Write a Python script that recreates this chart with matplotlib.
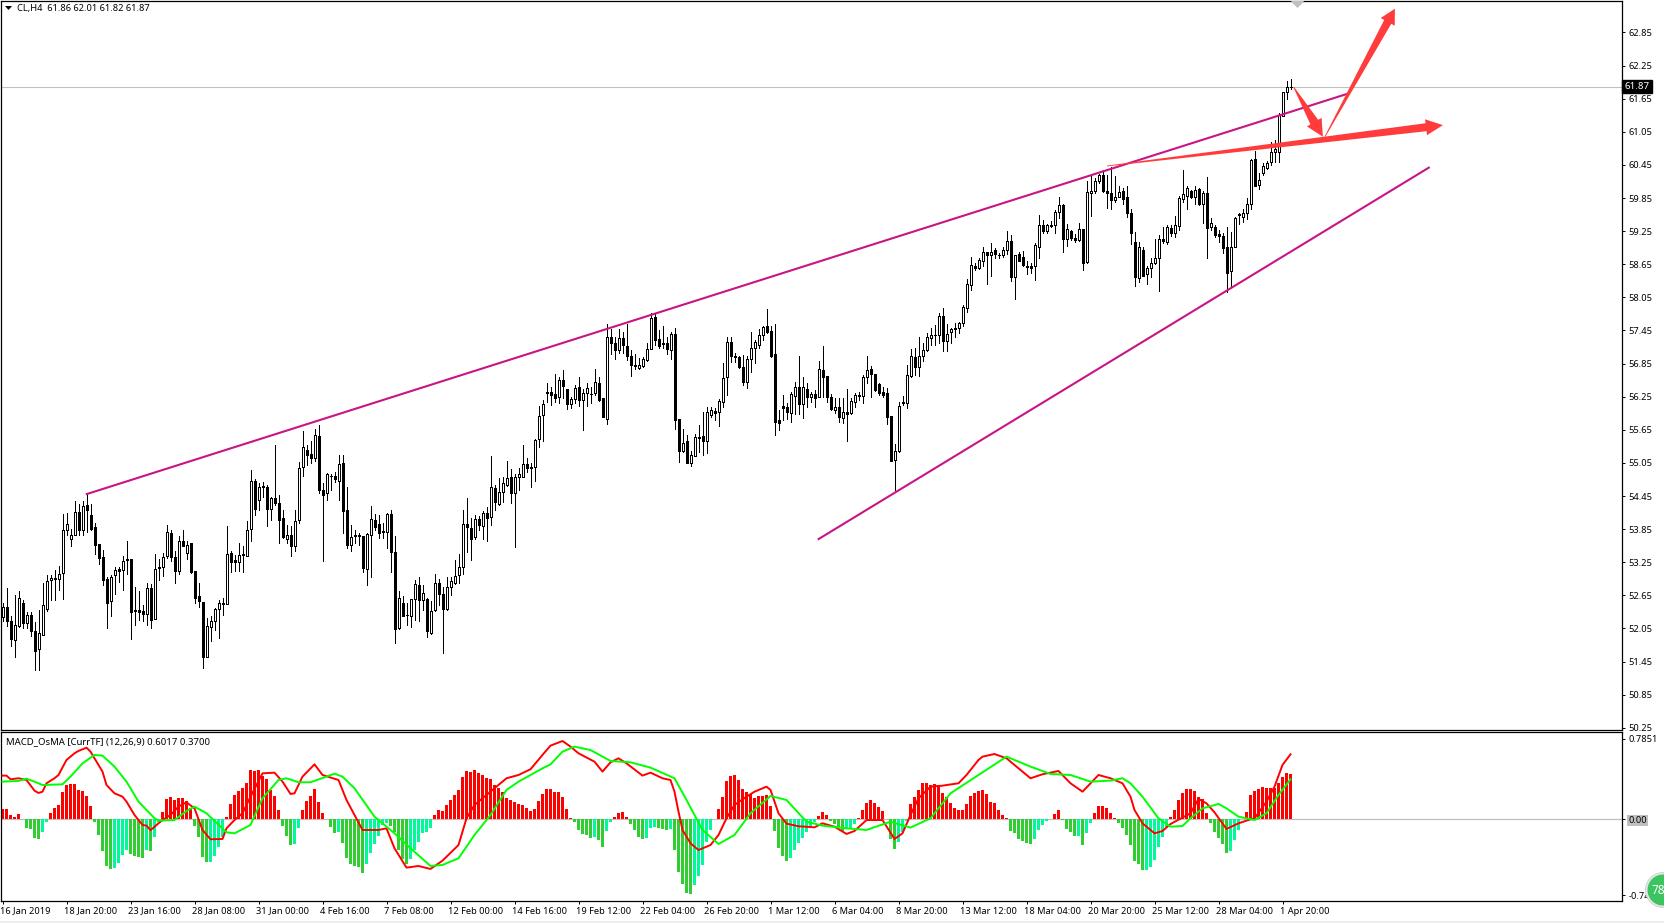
import matplotlib
matplotlib.use("Agg")
import matplotlib.pyplot as plt
from matplotlib.patches import Polygon, Rectangle, Circle
from matplotlib.transforms import IdentityTransform, ScaledTranslation
import numpy as np

plt.rcParams['font.family'] = ['Noto Sans', 'DejaVu Sans']

opens = [
52.26,52.44,52.18,51.84,52.09,52.51,52.14,52.29,52.00,51.68,
51.94,52.41,52.92,52.96,52.95,53.05,53.83,53.68,53.75,54.16,
53.83,54.29,54.10,53.89,53.58,53.34,52.95,52.54,53.01,53.13,
53.11,53.30,53.31,52.38,52.38,52.37,52.32,52.78,52.23,53.17,
53.17,53.36,53.78,53.35,53.10,53.63,53.41,53.59,53.10,52.63,
52.53,51.54,52.07,52.18,52.41,52.52,52.49,53.42,53.29,53.26,
53.39,53.37,53.85,54.72,54.38,54.64,54.61,54.21,54.41,54.32,
54.05,53.68,53.74,53.54,54.01,54.97,55.28,55.21,55.14,55.54,
54.56,54.50,54.81,54.81,54.73,55.05,54.20,53.57,53.72,53.74,
53.72,53.13,53.74,54.02,53.95,53.81,53.79,54.12,53.43,52.05,
52.52,52.30,52.27,52.59,52.84,52.56,52.58,51.97,52.38,52.87,
52.67,52.41,52.80,52.88,53.01,53.16,53.94,53.87,53.70,54.03,
53.90,54.14,54.07,54.59,54.31,54.53,54.65,54.79,54.51,54.79,
54.80,55.03,54.98,54.97,55.48,55.91,56.33,56.33,56.30,56.24,
56.55,56.39,56.11,56.20,56.42,56.19,56.31,56.29,56.31,56.49,
56.22,55.85,57.33,57.22,57.10,57.31,57.16,56.98,56.83,56.77,
56.80,56.92,57.12,57.69,57.29,57.21,57.23,57.10,57.39,55.84,
55.27,55.45,55.04,55.18,55.51,55.54,55.44,55.91,55.99,55.97,
56.15,56.60,57.24,56.99,56.96,56.78,56.52,56.94,57.14,57.19,
57.36,57.53,57.44,57.02,55.82,56.08,56.06,55.96,56.27,56.42,
56.11,56.39,56.25,56.29,56.25,56.73,56.62,56.24,56.01,56.06,
55.87,55.97,55.96,56.15,56.28,56.27,56.61,56.75,56.66,56.48,
56.34,56.31,55.90,55.10,55.27,56.16,56.14,56.63,56.96,56.78,
56.98,57.09,57.32,57.36,57.37,57.71,57.25,57.42,57.48,57.50,
57.59,57.85,58.27,58.61,58.58,58.71,58.87,58.81,58.91,58.81,
58.82,58.90,59.07,58.41,58.84,58.79,58.60,58.61,58.61,58.97,
59.37,59.25,59.36,59.36,59.60,59.72,59.10,59.25,59.12,59.09,
59.29,58.69,59.94,59.97,60.15,60.26,59.97,59.94,59.82,59.86,
59.97,59.86,59.57,59.05,58.40,58.91,58.47,58.58,58.67,58.77,
59.10,59.06,59.30,59.22,59.35,59.84,59.89,59.97,59.86,60.01,
59.74,59.94,59.32,59.32,59.19,59.16,58.96,58.52,58.96,59.55,
59.51,59.57,59.75,60.55,60.09,60.31,60.40,60.50,60.69,60.69,
61.34,61.77,61.86]

closes = [
52.43,52.18,51.85,52.11,52.60,52.14,52.29,52.00,51.65,51.97,
52.47,52.91,52.96,52.94,53.04,53.83,53.94,53.75,54.16,53.83,
54.27,54.19,53.86,53.56,53.32,52.92,52.52,52.98,53.11,53.10,
53.27,53.29,52.34,52.36,52.35,52.32,52.78,52.21,53.13,53.14,
53.35,53.80,53.34,53.10,53.63,53.55,53.56,53.08,52.61,52.54,
51.54,52.10,52.18,52.40,52.51,52.49,53.40,53.25,53.25,53.38,
53.40,53.83,54.72,54.21,54.61,54.61,54.21,54.41,54.33,54.01,
53.70,53.74,53.54,53.99,54.96,55.34,55.19,55.13,55.55,54.56,
54.47,54.84,54.82,54.75,55.03,54.17,53.57,53.71,53.74,53.72,
53.14,53.76,54.03,53.88,53.78,53.79,54.12,53.43,52.04,52.60,
52.28,52.29,52.58,52.85,52.56,52.69,52.00,52.37,52.87,52.67,
52.40,52.80,52.91,53.00,53.16,53.94,53.88,53.68,54.03,53.92,
54.14,54.06,54.61,54.35,54.52,54.68,54.77,54.51,54.79,54.84,
55.03,54.95,54.95,55.47,55.90,56.11,56.31,56.28,56.23,56.55,
56.45,56.11,56.20,56.41,56.19,56.31,56.40,56.30,56.51,56.19,
55.89,57.33,57.23,57.09,57.31,57.18,56.99,56.83,56.81,56.82,
56.93,57.11,57.67,57.27,57.16,57.22,57.12,57.38,55.82,55.27,
55.41,55.05,55.19,55.52,55.52,55.45,55.97,56.00,55.95,56.17,
56.58,57.24,56.98,56.96,56.78,56.52,56.94,57.13,57.24,57.36,
57.52,57.43,56.99,55.80,55.78,56.05,55.98,56.29,56.43,56.11,
56.43,56.25,56.29,56.23,56.75,56.60,56.25,56.03,56.06,55.89,
55.97,55.94,56.17,56.28,56.26,56.60,56.73,56.67,56.37,56.32,
56.28,55.89,55.09,55.27,56.09,56.13,56.64,56.98,56.78,56.98,
57.09,57.33,57.36,57.36,57.71,57.25,57.38,57.47,57.49,57.58,
57.88,58.29,58.63,58.59,58.72,58.88,58.81,58.88,58.83,58.82,
58.90,59.07,58.41,58.81,58.71,58.63,58.61,58.59,58.99,59.36,
59.26,59.36,59.34,59.60,59.73,59.10,59.28,59.12,59.09,59.28,
58.68,59.95,59.97,60.15,60.26,59.97,59.94,59.81,59.86,59.95,
59.84,59.57,59.21,58.41,58.96,58.44,58.58,58.68,58.76,59.10,
59.07,59.33,59.21,59.36,59.85,59.92,60.03,59.87,59.99,59.74,
59.94,59.31,59.39,59.18,59.17,58.95,58.50,58.97,59.49,59.55,
59.57,59.75,60.53,60.07,60.18,60.43,60.48,60.68,60.74,61.36,
61.77,61.87,61.87]

highs = [
52.51,52.78,52.27,52.66,52.73,52.56,52.35,52.35,52.16,52.39,
52.87,53.01,53.02,53.11,53.19,54.13,54.14,53.85,54.36,54.30,
54.36,54.50,54.31,53.96,53.58,53.48,52.99,53.02,53.17,53.17,
53.37,53.64,53.31,52.81,52.72,52.48,52.87,52.86,53.40,53.30,
53.42,53.93,53.84,53.45,53.72,53.84,53.63,53.60,53.10,52.87,
52.53,52.24,52.27,52.42,52.57,52.60,53.91,53.45,53.39,53.60,
53.54,54.00,54.93,54.75,54.68,54.70,54.65,54.44,55.38,54.47,
54.19,53.93,53.91,54.20,55.07,55.63,55.37,55.45,55.67,55.74,
54.68,54.87,54.85,54.88,55.19,55.20,54.61,53.93,53.84,53.78,
53.73,53.78,54.27,54.13,54.11,53.96,54.15,54.20,53.72,52.72,
52.63,52.51,52.58,52.93,52.99,52.84,52.60,52.54,53.04,52.95,
52.80,52.98,52.98,53.29,53.40,54.20,54.41,54.05,54.11,54.08,
54.17,54.25,55.18,54.65,54.77,54.80,55.08,54.94,54.85,54.95,
55.38,55.13,55.04,55.48,56.08,56.19,56.49,56.42,56.66,56.60,
56.74,56.39,56.25,56.46,56.60,56.39,56.49,56.42,56.75,56.60,
56.22,57.57,57.47,57.33,57.48,57.43,57.57,57.10,57.03,56.95,
56.97,57.22,57.76,57.76,57.46,57.53,57.34,57.42,57.49,55.84,
55.66,55.56,55.26,55.57,55.74,55.97,56.07,56.06,56.04,56.20,
56.86,57.34,57.33,57.04,56.99,57.01,56.99,57.42,57.27,57.47,
57.53,57.83,57.53,57.57,56.01,56.28,56.13,56.34,56.52,56.99,
56.60,56.49,56.34,56.37,56.90,57.17,56.62,56.30,56.22,56.22,
56.22,56.39,56.22,56.31,56.34,56.64,56.98,56.80,56.67,56.49,
56.42,56.40,55.90,55.39,56.16,56.26,56.82,57.11,57.13,57.34,
57.22,57.41,57.50,57.54,57.76,57.85,57.57,57.49,57.58,57.61,
57.91,58.38,58.78,58.68,58.76,58.97,58.88,59.04,58.94,58.85,
58.96,59.25,59.18,58.82,58.88,58.89,58.70,58.67,59.04,59.54,
59.45,59.38,59.44,59.63,59.86,59.74,59.38,59.27,59.20,59.39,
59.29,60.15,60.27,60.21,60.29,60.36,60.27,60.42,60.25,60.06,
60.04,60.07,59.65,59.23,59.06,58.97,58.61,58.76,59.10,59.18,
59.33,59.36,59.36,59.53,59.88,60.35,60.06,59.99,60.07,60.03,
59.97,60.23,59.48,59.36,59.27,59.21,59.32,59.24,59.51,59.57,
59.65,59.85,60.55,60.71,60.31,60.48,60.52,60.86,60.91,61.39,
61.78,61.97,62.01]

lows = [
52.18,52.09,51.74,51.54,52.07,52.06,52.06,51.91,51.30,51.29,
51.94,52.36,52.57,52.57,52.74,52.59,53.75,53.55,53.75,53.75,
53.75,53.79,53.84,53.40,53.22,52.84,52.05,52.27,52.68,52.90,
52.75,53.04,51.85,52.12,52.21,52.18,52.12,52.06,52.23,52.93,
53.00,53.33,53.27,52.87,53.03,53.54,53.30,53.05,52.52,52.43,
51.33,51.54,51.83,52.02,51.88,52.30,52.49,53.08,53.10,53.10,
53.08,53.36,53.64,54.11,54.20,54.44,53.91,54.02,54.29,53.59,
53.69,53.59,53.37,53.46,53.96,54.82,55.02,55.05,55.08,54.50,
53.28,54.37,54.56,54.70,54.37,53.78,53.51,53.46,53.60,53.56,
53.07,52.84,52.99,53.84,53.69,53.69,53.51,53.08,51.79,52.04,
52.27,52.12,52.07,52.21,52.19,52.39,51.89,51.95,52.37,52.48,
51.60,52.39,52.66,52.86,52.88,53.04,53.44,53.29,53.68,53.84,
53.67,53.64,53.93,54.20,54.29,54.35,54.63,54.33,53.53,54.56,
54.80,54.89,54.62,54.73,55.33,55.44,56.16,56.10,56.16,56.13,
56.22,56.02,56.04,56.13,56.08,55.65,56.08,56.13,56.28,56.17,
55.89,55.76,57.03,56.93,57.04,57.05,56.92,56.63,56.75,56.75,
56.78,56.89,57.11,57.19,57.13,57.13,57.03,56.94,55.66,55.07,
55.24,55.04,55.00,55.17,55.24,55.20,55.23,55.89,55.83,55.71,
56.06,56.28,56.87,56.87,56.77,56.46,56.41,56.70,56.86,57.13,
57.28,57.40,56.96,55.56,55.65,55.83,55.84,55.80,55.94,55.94,
55.87,56.07,56.16,56.07,56.24,56.25,56.16,56.01,55.95,55.80,
55.78,55.44,55.94,56.07,56.19,56.13,56.49,56.25,56.36,56.28,
56.24,55.76,55.09,54.56,55.24,56.10,56.05,56.60,56.64,56.63,
56.89,57.08,57.19,57.19,57.23,57.07,57.08,57.23,57.34,57.40,
57.53,57.79,58.18,58.54,58.56,58.62,58.29,58.43,58.76,58.76,
58.79,58.84,58.34,58.02,58.70,58.62,58.47,58.49,58.36,58.76,
59.22,59.22,59.32,59.22,59.48,58.88,58.98,59.09,59.06,59.08,
58.55,58.68,59.53,59.94,60.12,59.95,59.66,59.65,59.78,59.86,
59.74,59.50,59.02,58.26,58.32,58.43,58.30,58.41,58.66,58.17,
59.03,59.02,59.16,59.15,59.27,59.77,59.65,59.85,59.75,59.72,
59.40,58.77,59.27,59.14,59.06,58.85,58.15,58.24,58.96,59.38,
59.42,59.47,59.65,60.07,60.02,60.26,60.37,60.44,60.51,60.51,
61.33,61.65,61.82]

osma = [
.101,.101,.042,.026,.052,.007,-.081,-.098,-.183,-.192,
-.124,-.026,.059,.108,.140,.267,.336,.342,.346,.287,
.277,.231,.134,-.026,-.153,-.310,-.456,-.486,-.473,-.424,
-.349,-.300,-.339,-.359,-.368,-.378,-.300,-.310,-.170,-.023,
.068,.199,.218,.189,.205,.209,.179,.108,-.065,-.170,
-.368,-.417,-.417,-.359,-.267,-.176,.026,.153,.238,.280,
.310,.355,.482,.476,.486,.427,.394,.287,.225,.091,
-.065,-.163,-.248,-.241,-.088,.091,.179,.231,.297,.173,
.062,0,-.072,-.130,-.121,-.228,-.375,-.437,-.456,-.466,
-.522,-.440,-.333,-.245,-.160,-.055,-.039,-.065,-.121,-.297,
-.391,-.440,-.388,-.300,-.222,-.137,-.127,-.085,.042,.088,
.085,.140,.189,.238,.290,.411,.473,.460,.482,.456,
.434,.401,.391,.336,.303,.271,.205,.189,.166,.147,
.140,.114,.082,.101,.179,.248,.297,.297,.271,.271,
.222,.098,.013,-.029,-.104,-.143,-.156,-.179,-.173,-.202,
-.271,-.114,-.026,.020,.062,.072,.023,-.049,-.104,-.170,
-.189,-.186,-.085,-.075,-.085,-.098,-.104,-.095,-.303,-.512,
-.632,-.724,-.730,-.642,-.554,-.447,-.218,-.108,0,.101,
.218,.378,.427,.434,.385,.297,.271,.245,.212,.228,
.228,.238,.130,-.114,-.277,-.355,-.404,-.375,-.303,-.235,
-.179,-.121,-.065,-.023,.033,.072,.042,-.013,-.049,-.072,
-.114,-.088,-.082,-.049,.013,.095,.156,.186,.163,.124,
.082,0,-.192,-.290,-.218,-.121,-.013,.150,.218,.287,
.352,.352,.336,.342,.336,.254,.222,.156,.108,.088,
.091,.150,.231,.257,.280,.287,.245,.166,.156,.091,
.042,.016,-.111,-.137,-.192,-.212,-.235,-.241,-.196,-.108,
-.052,-.016,0,.052,.095,-.007,-.098,-.121,-.163,-.160,
-.251,-.130,-.033,.059,.130,.130,.108,.059,.010,-.033,
-.088,-.153,-.251,-.408,-.437,-.495,-.495,-.469,-.398,-.274,
-.170,-.078,.020,.091,.189,.254,.297,.297,.277,.215,
.199,.059,-.033,-.124,-.183,-.241,-.329,-.310,-.202,-.104,
0,.068,.238,.277,.297,.316,.303,.310,.303,.352,
.411,.453,.443]

red_bars = [0,1,2,4,6,8,9,10,11,13,14,16,18,19,21,22,23,25,26,28,30,31,33,35,36,37,39,40,42,44,46,48,50,52,55,56,58,60,62,65,68,70,72,73,75,78,80,84,86,88,90,94,96,98,
101,104,107,110,114,116,118,123,126,129,132,135,137,140,142,144,148,150,152,154,156,160,162,165,167,168,169,170,172,174,177,179,181,183,186,188,191,192,194,196,199,
203,205,208,211,213,216,220,223,225,227,229,232,235,239,241,244,245,248,251,257,260,264,267,270,274,277,280,282,283,285,288,290,292,297,299,301,303,305,306,309,312,313,316,318,320,322]
red_line = [.427,.427,.391,.401,.384,.280,.257,.270,.352,.401,.433,.580,.645,.668,.700,.661,.596,.466,.335,.254,.221,.173,.042,-.055,-.062,-.107,-.039,-.007,.042,.124,.166,.107,-.104,-.195,-.192,-.088,-.007,.059,.221,.449,.456,.368,.248,.254,.417,.537,.433,.384,.189,.042,-.104,-.104,-.088,-.283,
-.472,-.456,-.485,-.404,-.251,.010,.140,.303,.401,.433,.489,.629,.720,.765,.710,.645,.563,.466,.557,.596,.547,.427,.456,.401,.384,.270,.075,-.104,-.234,-.300,-.251,-.153,.010,.140,.221,.270,.319,.287,.059,-.042,-.068,
-.078,-.039,-.072,-.143,-.114,-.007,-.007,-.192,-.137,.042,.205,.319,.329,.352,.433,.580,.612,.638,.596,.401,.440,.472,.352,.270,.433,.401,.352,.221,.091,-.039,-.137,-.114,-.046,.059,.199,.156,.068,-.039,-.094,-.039,0,.010,.173,.319,.531,.635]

green_bars = [0,4,6,8,10,15,17,20,23,25,28,31,34,38,39,43,46,48,51,56,58,62,65,69,71,74,77,81,83,85,88,93,98,102,107,110,114,118,122,126,129,135,137,140,143,147,152,157,162,168,
171,175,179,183,187,192,196,201,205,211,216,222,227,232,237,244,251,257,262,267,272,277,280,282,285,289,292,295,297,300,304,306,309,313,316,319,322]
green_line = [.368,.375,.397,.368,.335,.342,.417,.547,.629,.622,.515,.368,.173,.010,-.013,-.007,.081,.124,.059,-.127,-.137,-.055,.205,.384,.401,.362,.362,.417,.446,.417,.303,.026,-.137,-.283,-.456,-.446,-.381,-.153,.042,.287,.368,.498,.537,.661,.710,.677,.570,.557,.505,.401,
.189,-.104,-.241,-.153,.059,.228,.189,-.023,-.062,-.088,-.104,-.023,-.081,.010,.254,.433,.612,.515,.443,.433,.368,.378,.401,.352,.221,.010,-.072,-.065,.010,.107,.150,.107,.026,-.007,.059,.238,.391]

price_ticks = [62.85,62.25,61.65,61.05,60.45,59.85,59.25,58.65,58.05,57.45,56.85,56.25,55.65,55.05,54.45,53.85,53.25,52.65,52.05,51.45,50.85,50.25]
last_price = 61.87
date_labels = ['16 Jan 2019','18 Jan 20:00','23 Jan 16:00','28 Jan 08:00','31 Jan 00:00','4 Feb 16:00','7 Feb 08:00',
 '12 Feb 00:00','14 Feb 16:00','19 Feb 12:00','22 Feb 04:00','26 Feb 20:00','1 Mar 12:00','6 Mar 04:00','8 Mar 20:00',
 '13 Mar 12:00','18 Mar 04:00','20 Mar 20:00','25 Mar 12:00','28 Mar 04:00','1 Apr 20:00']
# trend lines and arrows as (bar, price)
upper_trend = ([20.83, 336.3], [54.48, 61.74])
lower_trend = ([203.8, 356.8], [53.66, 60.41])
arrow_flat = ((276.1, 60.43), (360.1, 61.17))
arrow_down = ((322.8, 61.86), (330.1, 60.96))
arrow_up = ((330.6, 60.96), (348.1, 63.28))

W, H = 1664, 923
fig = plt.figure(figsize=(W/100, H/100), dpi=100, facecolor='white')
def box(l, t, r, b):
    return [l/W, 1-b/H, (r-l)/W, (b-t)/H]
ax = fig.add_axes(box(1, 1, 1622, 730))
ax2 = fig.add_axes(box(1, 732, 1622, 901))
xlim = (-0.375, 404.875)
for a in (ax, ax2):
    a.set_xlim(*xlim)
    for s in a.spines.values():
        s.set_linewidth(0.9)
        s.set_color('black')
ax.set_ylim(50.21, 63.42)
ax2.set_ylim(-0.798, 0.853)

TXT = dict(fontsize=6.7, color='black')
# candles
idx = np.arange(len(opens))
o, c, hi, lo = map(np.array, (opens, closes, highs, lows))
up = c >= o
ax.vlines(idx, lo, hi, color='black', lw=0.6, zorder=2, antialiased=False)
ax.bar(idx[up], np.maximum(c-o, 0.005)[up], bottom=o[up], width=0.5, facecolor='white', edgecolor='black', lw=0.6, zorder=3, antialiased=False)
ax.bar(idx[~up], (o-c)[~up], bottom=c[~up], width=0.5, facecolor='black', edgecolor='black', lw=0.6, zorder=3, antialiased=False)

ax.axhline(last_price, color='#C0C0C0', lw=0.8, zorder=1)
ax.plot(*upper_trend, color='#C71585', lw=1.5, zorder=4, solid_capstyle='butt')
ax.plot(*lower_trend, color='#C71585', lw=1.5, zorder=4, solid_capstyle='butt')

ax.yaxis.tick_right()
ax.set_yticks(price_ticks)
ax.set_yticklabels([f'{p:.2f}' for p in price_ticks], **TXT)
ax.tick_params(axis='y', length=2.2, width=0.7, pad=2.5)
ax.set_xticks([])
ax.text(1.0015, last_price, f'{last_price:.2f}', transform=ax.get_yaxis_transform(), va='center', ha='left',
        fontsize=7, color='white', bbox=dict(facecolor='black', edgecolor='black', pad=1.6), zorder=6, clip_on=False)

# gray diamond at chart top
ax.scatter([323.7], [63.42], marker='D', s=32, color='#C0C0C0', zorder=5, clip_on=True)

# arrows
fig.canvas.draw()
def arrow(tail, tip, shaft, head_w, head_l):
    a = ax.transData.transform(tail)
    b = ax.transData.transform(tip)
    d = (b-a)/np.linalg.norm(b-a)
    n = np.array([-d[1], d[0]])
    base = b - d*head_l
    pts = [a+n*0.4, base+n*shaft/2, base+n*head_w/2, b, base-n*head_w/2, base-n*shaft/2, a-n*0.4]
    ax.add_patch(Polygon(pts, closed=True, transform=IdentityTransform(), facecolor='#FF3B3B', edgecolor='none', zorder=5, clip_on=False))
arrow(*arrow_flat, 8, 16, 17)
arrow(*arrow_down, 9, 17, 17)
arrow(*arrow_up, 8, 16, 15)

# MACD panel
osma_arr = np.array(osma)
prev = np.r_[osma_arr[0], osma_arr[:-1]]
cols = ['#FF0000' if v >= 0 else ('#32CD32' if v < p else '#00FA9A') for v, p in zip(osma_arr, prev)]
ax2.axhline(0, color='#C0C0C0', lw=0.9, zorder=1)
ax2.bar(idx, osma_arr, width=0.72, color=cols, zorder=2, antialiased=False)
ax2.plot(red_bars, red_line, color='#FF0000', lw=1.4, zorder=3, solid_joinstyle='round')
ax2.plot(green_bars, green_line, color='#00FF00', lw=1.4, zorder=4, solid_joinstyle='round')
ax2.yaxis.tick_right()
ax2.set_yticks([0.7851, 0.0, -0.74])
ax2.set_yticklabels(['0.7851', '0.00', '-0.74'], **TXT)
ax2.tick_params(axis='y', length=2.2, width=0.7, pad=2.5)
ax2.get_yticklabels()[1].set_bbox(dict(facecolor='#C0C0C0', edgecolor='none', pad=0.8))
ax2.set_xticks(np.arange(len(date_labels))*16)
ax2.set_xticklabels(date_labels, ha='left', **TXT)
ax2.tick_params(axis='x', length=2.5, width=0.7, pad=1.5)
shift = ScaledTranslation(-2/100, 0, fig.dpi_scale_trans)
for lab in ax2.get_xticklabels():
    lab.set_transform(lab.get_transform() + shift)

# header texts
fig.text(17/W, 1-8/H, 'CL,H4  61.86 62.01 61.82 61.87', va='center', ha='left', **TXT)
fig.add_artist(Polygon([(5/W,1-6/H),(12/W,1-6/H),(8.5/W,1-10/H)], transform=fig.transFigure, facecolor='black', edgecolor='none'))
fig.text(6/W, 1-742/H, 'MACD_OsMA [CurrTF] (12,26,9) 0.6017 0.3700', va='center', ha='left', fontsize=6.9, color='black')

# window footer and badge
fig.add_artist(Rectangle((0,0), 1, 2/H, transform=fig.transFigure, facecolor='#EDEDED', edgecolor='none'))
bx = fig.add_axes([0,0,1,1], facecolor='none', zorder=10)
bx.set_xlim(0, W); bx.set_ylim(H, 0); bx.axis('off')
bx.add_patch(Circle((1663, 890), 17.5, facecolor='#E6E6E6', edgecolor='#CFCFCF', lw=0.6))
bx.add_patch(Circle((1663, 890), 15.5, facecolor='#3CC45E', edgecolor='none'))
bx.text(1651, 890, '78', color='white', fontsize=8.5, fontweight='bold', va='center', ha='left', clip_on=True)

fig.savefig('out.png', dpi=100)
